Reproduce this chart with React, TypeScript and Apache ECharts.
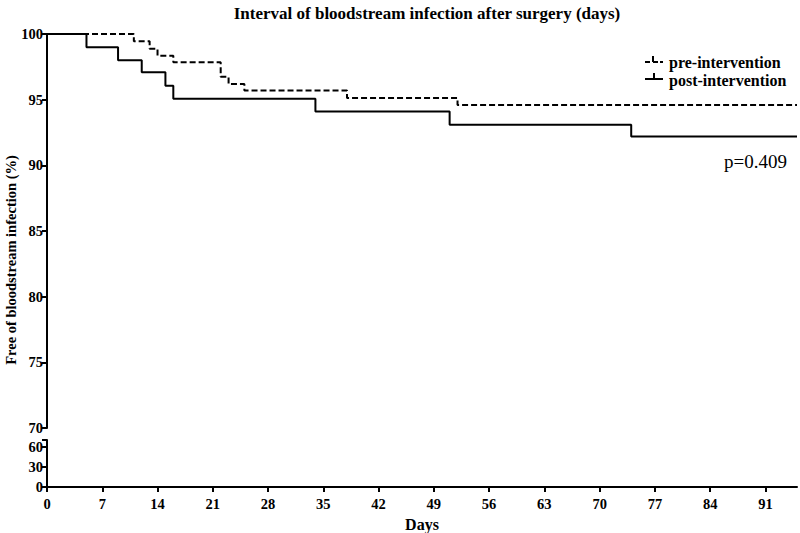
import React, { useEffect, useRef } from "react";
import * as echarts from "echarts";

const preDays = [0, 11, 13, 14, 16, 22, 23, 25, 38, 52, 95];
const preSurvival = [100, 99.44, 98.88, 98.35, 97.84, 96.75, 96.19, 95.7, 95.13, 94.6, 94.6];
const postDays = [0, 5, 9, 12, 15, 16, 34, 51, 74, 95];
const postSurvival = [100, 99.0, 98.0, 97.08, 96.06, 95.07, 94.1, 93.09, 92.2, 92.2];
const xTicks = [0, 7, 14, 21, 28, 35, 42, 49, 56, 63, 70, 77, 84, 91];
const upperYTicks = [70, 75, 80, 85, 90, 95, 100];
const lowerYTicks = [0, 30, 60];

const FONT = "'Liberation Serif', 'Times New Roman', serif";

export default function App() {
  const ref = useRef<HTMLDivElement>(null);
  useEffect(() => {
    if (!ref.current) return;
    const chart = echarts.init(ref.current, undefined, { renderer: "svg" });
    const axisLine = { show: true, lineStyle: { color: "#000", width: 2 } };
    const labelStyle = { color: "#000", fontFamily: FONT, fontWeight: "bold" as const, fontSize: 14.5 };
    chart.setOption({
      animation: false,
      backgroundColor: "#fff",
      title: {
        text: "Interval of bloodstream infection after surgery (days)",
        left: 422,
        textAlign: "center",
        top: 0,
        textStyle: { fontFamily: FONT, fontWeight: "bold", fontSize: 17, color: "#000" },
      },
      grid: [
        { left: 47, right: 3, top: 34, height: 394 },
        { left: 47, right: 3, top: 440, height: 50 },
      ],
      xAxis: [
        {
          gridIndex: 0, type: "value", min: 0, max: 95,
          axisLine: { show: false }, axisTick: { show: false }, axisLabel: { show: false }, splitLine: { show: false },
        },
        {
          gridIndex: 1, type: "value", min: 0, max: 95,
          axisLine: { ...axisLine, onZero: false },
          axisTick: { show: true, length: 5, lineStyle: { color: "#000", width: 2 }, customValues: xTicks },
          axisLabel: { ...labelStyle, margin: 9, customValues: xTicks },
          splitLine: { show: false },
          name: "Days", nameLocation: "middle", nameGap: 29,
          nameTextStyle: { fontFamily: FONT, fontWeight: "bold", fontSize: 16, color: "#000" },
        },
      ],
      yAxis: [
        {
          gridIndex: 0, type: "value", min: 70, max: 100, interval: 5,
          axisLine,
          axisTick: { show: true, length: 5, lineStyle: { color: "#000", width: 2 }, customValues: upperYTicks },
          axisLabel: { ...labelStyle, margin: 4, customValues: upperYTicks },
          splitLine: { show: false },
        },
        {
          gridIndex: 1, type: "value", min: 0, max: 70,
          axisLine,
          axisTick: { show: true, length: 5, lineStyle: { color: "#000", width: 2 }, customValues: [0, 30, 60, 70] },
          axisLabel: { ...labelStyle, margin: 4, customValues: lowerYTicks },
          splitLine: { show: false },
        },
      ],
      series: [
        {
          name: "pre-intervention", type: "line", step: "end", xAxisIndex: 0, yAxisIndex: 0,
          data: preDays.map((d, i) => [d, preSurvival[i]]),
          showSymbol: false, lineStyle: { color: "#000", width: 2, type: [6, 3] },
        },
        {
          name: "post-intervention", type: "line", step: "end", xAxisIndex: 0, yAxisIndex: 0,
          data: postDays.map((d, i) => [d, postSurvival[i]]),
          showSymbol: false, lineStyle: { color: "#000", width: 2 },
        },
      ],
      graphic: [
        {
          type: "text", x: 11, y: 260, rotation: Math.PI / 2,
          style: {
            text: "Free of bloodstream infection (%)", fontFamily: FONT, fontWeight: "bold", fontSize: 14.5,
            fill: "#000", align: "center", verticalAlign: "middle",
          },
        },
        { type: "line", shape: { x1: 645, y1: 62, x2: 650, y2: 62 }, style: { stroke: "#000", lineWidth: 2 } },
        { type: "line", shape: { x1: 653, y1: 62, x2: 658, y2: 62 }, style: { stroke: "#000", lineWidth: 2 } },
        { type: "line", shape: { x1: 653, y1: 56, x2: 653, y2: 62 }, style: { stroke: "#000", lineWidth: 2 } },
        { type: "line", shape: { x1: 660, y1: 62, x2: 663, y2: 62 }, style: { stroke: "#000", lineWidth: 2 } },
        { type: "line", shape: { x1: 645, y1: 79, x2: 663, y2: 79 }, style: { stroke: "#000", lineWidth: 2 } },
        { type: "line", shape: { x1: 654, y1: 73, x2: 654, y2: 79 }, style: { stroke: "#000", lineWidth: 2 } },
        {
          type: "text", x: 669, y: 62,
          style: { text: "pre-intervention", fontFamily: FONT, fontWeight: "bold", fontSize: 16, fill: "#000", verticalAlign: "middle" },
        },
        {
          type: "text", x: 669, y: 80,
          style: { text: "post-intervention", fontFamily: FONT, fontWeight: "bold", fontSize: 16, fill: "#000", verticalAlign: "middle" },
        },
        {
          type: "text", x: 787, y: 161,
          style: { text: "p=0.409", fontFamily: FONT, fontSize: 19, fill: "#000", align: "right", verticalAlign: "middle" },
        },
      ],
    });
    return () => chart.dispose();
  }, []);
  return <div ref={ref} style={{ width: 800, height: 533, position: "absolute", left: 0, top: 0 }} />;
}
